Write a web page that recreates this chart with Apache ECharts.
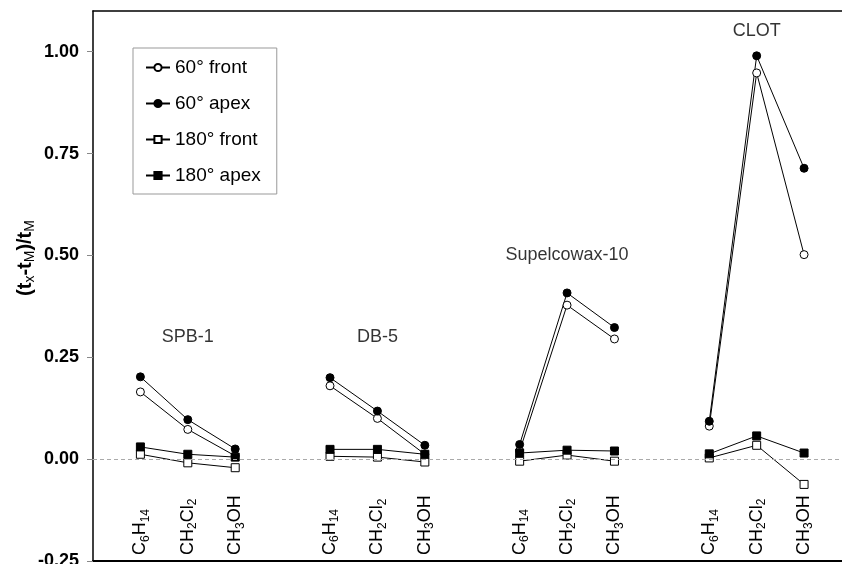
<!DOCTYPE html>
<html>
<head>
<meta charset="utf-8">
<script src="https://cdn.jsdelivr.net/npm/echarts@6/dist/echarts.min.js"></script>
<style>
  html, body { margin: 0; padding: 0; background: #fff; }
  #chart { width: 842px; height: 564px; }
</style>
</head>
<body>
<div id="chart"></div>
<script>
// columns and compounds
const groups = ['SPB-1', 'DB-5', 'Supelcowax-10', 'CLOT'];
const compounds = ['C{s|6}H{s|14}', 'CH{s|2}Cl{s|2}', 'CH{s|3}OH'];
const groupLabelY = [0.30, 0.30, 0.50, 1.05];
const yTicks = [-0.25, 0, 0.25, 0.5, 0.75, 1.0];

// (tx - tM) / tM, 3 compounds per column
const front60 = [0.165, 0.073, 0.008, 0.180, 0.100, 0.012, 0.020, 0.378, 0.295, 0.081, 0.948, 0.502];
const apex60 = [0.202, 0.097, 0.025, 0.200, 0.118, 0.034, 0.036, 0.408, 0.323, 0.093, 0.990, 0.714];
const front180 = [0.012, -0.009, -0.021, 0.007, 0.005, -0.007, -0.005, 0.010, -0.005, 0.003, 0.034, -0.062];
const apex180 = [0.030, 0.012, 0.005, 0.024, 0.024, 0.012, 0.015, 0.022, 0.020, 0.013, 0.057, 0.015];

// x position of compound i in group g (one empty slot between groups)
const xPos = (g, i) => g * 4 + i + 1;

const labelPos = [];
const labelText = {};
groups.forEach((g, gi) => {
    compounds.forEach((c, ci) => {
        labelPos.push(xPos(gi, ci));
        labelText[xPos(gi, ci)] = c;
    });
});

const toData = (vals) => {
    const out = [];
    groups.forEach((g, gi) => {
        compounds.forEach((c, ci) => out.push([xPos(gi, ci), vals[gi * 3 + ci]]));
        if (gi < groups.length - 1) out.push([xPos(gi, 3), '-']);
    });
    return out;
};

const font = 'Liberation Sans, Arial, sans-serif';

const makeSeries = (name, vals, symbol, filled) => ({
    name: name,
    type: 'line',
    data: toData(vals),
    symbol: symbol,
    symbolSize: 8,
    showAllSymbol: true,
    connectNulls: false,
    lineStyle: { color: '#000', width: 1 },
    itemStyle: { color: filled ? '#000' : '#fff', borderColor: '#000', borderWidth: 1 },
    emphasis: { disabled: true },
    z: 3
});

const series = [
    makeSeries('60° front', front60, 'circle', false),
    makeSeries('60° apex', apex60, 'circle', true),
    makeSeries('180° front', front180, 'rect', false),
    makeSeries('180° apex', apex180, 'rect', true)
];

series.push({
    type: 'scatter',
    symbolSize: 0,
    silent: true,
    z: 1,
    data: groups.map((g, gi) => ({ name: g, value: [xPos(gi, 1), groupLabelY[gi]] })),
    label: {
        show: true,
        position: 'inside',
        formatter: (p) => p.name,
        color: '#000',
        fontFamily: font,
        fontSize: 18
    },
    markLine: {
        silent: true,
        symbol: 'none',
        label: { show: false },
        lineStyle: { color: '#aaa', type: [4, 3], width: 1 },
        data: [{ yAxis: 0 }]
    }
});

const chart = echarts.init(document.getElementById('chart'));

chart.setOption({
    animation: false,
    backgroundColor: '#fff',
    grid: { left: 93, right: 0, top: 11, bottom: 3, containLabel: false, outerBoundsMode: 'none' },
    legend: {
        data: ['60° front', '60° apex', '180° front', '180° apex'],
        orient: 'vertical',
        left: 133,
        top: 48,
        padding: [10, 16, 9, 12],
        itemGap: 17,
        itemWidth: 24,
        itemHeight: 9,
        borderColor: '#999',
        borderWidth: 1,
        textStyle: { color: '#000', fontFamily: font, fontSize: 19 }
    },
    xAxis: [
        {
            type: 'value',
            min: 0,
            max: 15.8,
            splitLine: { show: false },
            axisLine: { show: true, onZero: false, lineStyle: { color: '#000', width: 2 } },
            axisTick: { show: false },
            axisLabel: {
                inside: true,
                rotate: 90,
                margin: 6,
                customValues: labelPos,
                formatter: (v) => '{n|' + labelText[Math.round(v)].replace(/\{s\|/g, '}{s|').replace(/\}(?!\{)/g, '}{n|') + '}',
                rich: {
                    n: { fontFamily: font, fontSize: 18, color: '#000', lineHeight: 22 },
                    s: { fontFamily: font, fontSize: 12, color: '#000', lineHeight: 22, verticalAlign: 'bottom' }
                }
            }
        },
        {
            type: 'value',
            position: 'top',
            min: 0,
            max: 15.8,
            splitLine: { show: false },
            axisLine: { show: true, onZero: false, lineStyle: { color: '#000', width: 1.5 } },
            axisTick: { show: false },
            axisLabel: { show: false }
        }
    ],
    yAxis: {
        type: 'value',
        min: -0.25,
        max: 1.1,
        interval: 0.25,
        name: '(t{s|x}-t{s|M})/t{s|M}',
        nameLocation: 'middle',
        nameGap: 56,
        nameMoveOverlap: false,
        nameRotate: 90,
        nameTextStyle: {
            fontFamily: font, fontSize: 20, fontWeight: 'bold', color: '#000',
            padding: [0, 0, 0, 56],
            rich: {
                s: { fontFamily: font, fontSize: 14, fontWeight: 'normal', color: '#000', verticalAlign: 'bottom', lineHeight: 24 }
            }
        },
        splitLine: { show: false },
        axisLine: { show: true, onZero: false, lineStyle: { color: '#000', width: 1.5 } },
        axisTick: { show: true, length: 6, customValues: yTicks, lineStyle: { color: '#888' } },
        axisLabel: {
            customValues: yTicks,
            margin: 14,
            formatter: (v) => v.toFixed(2),
            color: '#000',
            fontFamily: font,
            fontSize: 18,
            fontWeight: 'bold'
        }
    },
    series: series
});
</script>
</body>
</html>
